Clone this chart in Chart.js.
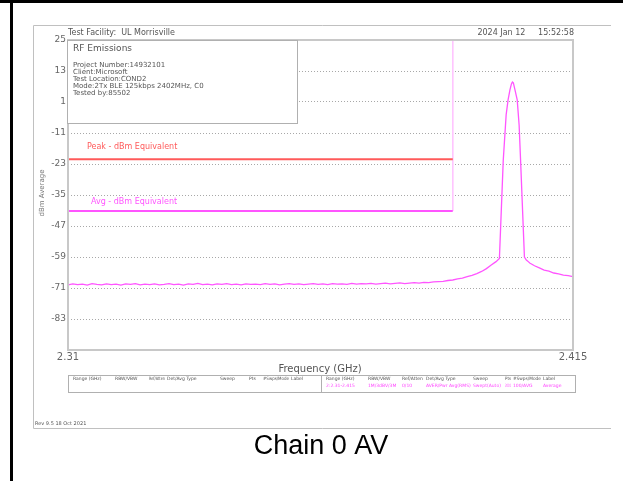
<!DOCTYPE html>
<html>
<head>
<meta charset="utf-8">
<title>Chain 0 AV</title>
<script src="https://cdn.jsdelivr.net/npm/chart.js@4.4.1/dist/chart.umd.min.js"></script>
<style>
  html, body { margin: 0; padding: 0; background: #fff; }
  #wrap { position: relative; width: 623px; height: 481px; }
</style>
</head>
<body>
<div id="wrap"><canvas id="rfChart" width="623" height="481"></canvas></div>
<script>
// --- data ---
var xTickValues = [2.31, 2.415];
var xTickLabels = ['2.31', '2.415'];
var yTickValues = [-95, -83, -71, -59, -47, -35, -23, -11, 1, 13, 25];
var yTickLabels = ['', '-83', '-71', '-59', '-47', '-35', '-23', '-11', '1', '13', '25'];

// average trace (GHz / dBm)
var traceFreq = [
  2.310, 2.311, 2.312, 2.313, 2.314, 2.315, 2.316, 2.317, 2.318, 2.319,
  2.320, 2.321, 2.322, 2.323, 2.324, 2.325, 2.326, 2.327, 2.328, 2.329,
  2.330, 2.331, 2.332, 2.333, 2.334, 2.335, 2.336, 2.337, 2.338, 2.339,
  2.340, 2.341, 2.342, 2.343, 2.344, 2.345, 2.346, 2.347, 2.348, 2.349,
  2.350, 2.351, 2.352, 2.353, 2.354, 2.355, 2.356, 2.357, 2.358, 2.359,
  2.360, 2.361, 2.362, 2.363, 2.364, 2.365, 2.366, 2.367, 2.368, 2.369,
  2.370, 2.371, 2.372, 2.373, 2.374, 2.375, 2.376, 2.377, 2.378, 2.379,
  2.380, 2.381, 2.382, 2.383, 2.384, 2.385, 2.386, 2.387, 2.388, 2.389,
  2.390, 2.391, 2.392, 2.393, 2.394, 2.395, 2.396, 2.397, 2.398, 2.399,
  2.3997, 2.4005, 2.4011, 2.4015, 2.4019, 2.4022, 2.4024, 2.4026, 2.4029, 2.4034,
  2.4038, 2.4041, 2.4049, 2.4053, 2.4056, 2.406, 2.407, 2.408, 2.409, 2.410,
  2.411, 2.412, 2.413, 2.414, 2.415
];
var traceDbm = [
  -69.8, -69.4, -69.7, -69.5, -69.9, -69.3, -69.6, -69.8, -69.4, -69.7,
  -69.5, -69.9, -69.4, -69.6, -69.3, -69.8, -69.5, -69.7, -69.4, -69.8,
  -69.6, -69.3, -69.7, -69.5, -69.9, -69.4, -69.6, -69.2, -69.7, -69.5,
  -69.8, -69.4, -69.6, -69.3, -69.7, -69.5, -69.8, -69.4, -69.6, -69.5,
  -69.7, -69.3, -69.6, -69.4, -69.8, -69.5, -69.3, -69.6, -69.4, -69.7,
  -69.5, -69.3, -69.6, -69.4, -69.7, -69.3, -69.5, -69.4, -69.6, -69.2,
  -69.5, -69.3, -69.4, -69.2, -69.5, -69.3, -69.1, -69.4, -69.2, -69.0,
  -69.3, -69.1, -68.9, -69.1, -68.8, -68.9, -68.6, -68.5, -68.4, -68.1,
  -67.9, -67.5, -67.2, -66.6, -66.1, -65.4, -64.6, -63.5, -62.1, -60.8,
  -59.6, -21.5, -4.0, 1.8, 5.8, 8.0, 8.7, 8.4, 6.0, 1.8,
  -8.0, -21.5, -59.0, -60.2, -60.6, -61.3, -62.4, -63.2, -64.1, -64.5,
  -65.2, -65.5, -66.0, -66.2, -66.6
];

var peakLimitDbm = -21.2;
var avgLimitDbm = -41.2;
var bandEdgeGHz = 2.39;
var plotTopDbm = 25;

function pts(xs, ys) {
  return xs.map(function (x, i) { return { x: x, y: ys[i] }; });
}

// --- page decoration drawn on the canvas ---
var decor = {
  id: 'decor',
  afterDraw: function (chart) {
    var ctx = chart.ctx;
    var a = chart.chartArea;
    ctx.save();

    // outer black edges
    ctx.fillStyle = '#000';
    ctx.fillRect(0, 0, 623, 3);
    ctx.fillRect(10, 0, 3, 481);

    // gray page frame
    ctx.strokeStyle = '#c0c0c0';
    ctx.lineWidth = 1;
    ctx.beginPath();
    ctx.moveTo(611, 25.5); ctx.lineTo(33.5, 25.5); ctx.lineTo(33.5, 428.5); ctx.lineTo(611, 428.5);
    ctx.stroke();

    // plot frame
    ctx.strokeStyle = '#c8c8c8';
    ctx.lineWidth = 2;
    ctx.strokeRect(a.left, a.top, a.right - a.left, a.bottom - a.top);

    // header
    ctx.fillStyle = '#555';
    ctx.textBaseline = 'middle';
    ctx.font = '8px "DejaVu Sans"';
    ctx.textAlign = 'left';
    ctx.fillText('Test Facility:  UL Morrisville', 68, 33);
    ctx.textAlign = 'right';
    ctx.fillText('2024 Jan 12     15:52:58', 574, 33);

    // info box
    ctx.fillStyle = '#fff';
    ctx.fillRect(67, 40, 230, 83);
    ctx.strokeStyle = '#b0b0b0';
    ctx.lineWidth = 1;
    ctx.strokeRect(67.5, 40.5, 230, 83);
    ctx.fillStyle = '#555';
    ctx.textAlign = 'left';
    ctx.font = '9px "DejaVu Sans"';
    ctx.fillText('RF Emissions', 73, 49);
    ctx.font = '7px "DejaVu Sans"';
    var info = ['Project Number:14932101', 'Client:Microsoft', 'Test Location:COND2',
                'Mode:2Tx BLE 125kbps 2402MHz, C0', 'Tested by:85502'];
    info.forEach(function (t, i) { ctx.fillText(t, 73, 65 + i * 7); });

    // limit labels
    ctx.font = '8px "DejaVu Sans"';
    ctx.fillStyle = '#ff5a5a';
    ctx.fillText('Peak - dBm Equivalent', 87, 147);
    ctx.fillStyle = '#ff55ff';
    ctx.fillText('Avg - dBm Equivalent', 91, 202);

    // y title
    ctx.save();
    ctx.translate(42, 193);
    ctx.rotate(-Math.PI / 2);
    ctx.textAlign = 'center';
    ctx.fillStyle = '#777';
    ctx.font = '7px "DejaVu Sans"';
    ctx.fillText('dBm Average', 0, 0);
    ctx.restore();

    // x title
    ctx.textAlign = 'center';
    ctx.fillStyle = '#555';
    ctx.font = '10px "DejaVu Sans"';
    ctx.fillText('Frequency (GHz)', 320, 369);

    // settings table
    ctx.strokeStyle = '#b0b0b0';
    ctx.strokeRect(68.5, 375.5, 507, 17);
    ctx.beginPath(); ctx.moveTo(321.5, 375.5); ctx.lineTo(321.5, 392.5); ctx.stroke();
    ctx.textAlign = 'left';
    ctx.font = '4.5px "DejaVu Sans"';
    var heads = ['Range (GHz)', 'RBW/VBW', 'Ref/Atten', 'Det/Avg Type', 'Sweep', 'Pts', '#Swps/Mode', 'Label'];
    var leftX = [73, 115, 149, 167, 220, 249, 263, 291, 320];
    var rightX = [326, 368, 402, 426, 473, 505, 513, 543, 575];
    var vals = ['2:2.31-2.415', '1M/3dBV/3M', '0/10', 'AVER/Pwr Avg(RMS)', 'Swept(Auto)', '2001', '100/AVG', 'Average'];
    ctx.fillStyle = '#555';
    heads.forEach(function (h, i) {
      ctx.fillText(h, leftX[i], 379, leftX[i + 1] - leftX[i] - 2);
      ctx.fillText(h, rightX[i], 379, rightX[i + 1] - rightX[i] - 2);
    });
    ctx.fillStyle = '#ff44ff';
    vals.forEach(function (v, i) { ctx.fillText(v, rightX[i], 386, rightX[i + 1] - rightX[i] - 2); });

    // footer
    ctx.fillStyle = '#555';
    ctx.font = '5px "DejaVu Sans"';
    ctx.fillText('Rev 9.5 18 Oct 2021', 35, 424);

    ctx.fillStyle = '#000';
    ctx.textAlign = 'center';
    ctx.font = '27px "Liberation Sans", Arial, sans-serif';
    ctx.fillText('Chain 0 AV', 321, 447);

    ctx.restore();
  }
};

var tickFont = { family: '"DejaVu Sans"', size: 9 };

new Chart(document.getElementById('rfChart').getContext('2d'), {
  type: 'line',
  data: {
    datasets: [
      {
        label: 'Average trace',
        data: pts(traceFreq, traceDbm),
        borderColor: '#ff55ff',
        borderWidth: 1.3,
        pointRadius: 0,
        tension: 0,
      },
      {
        label: 'Peak limit',
        data: pts([2.31, bandEdgeGHz], [peakLimitDbm, peakLimitDbm]),
        borderColor: '#ff5a5a',
        borderWidth: 2,
        pointRadius: 0,
      },
      {
        label: 'Avg limit',
        data: pts([2.31, bandEdgeGHz], [avgLimitDbm, avgLimitDbm]),
        borderColor: '#ff55ff',
        borderWidth: 2,
        pointRadius: 0,
      },
      {
        label: 'Band edge',
        data: pts([bandEdgeGHz, bandEdgeGHz], [plotTopDbm, avgLimitDbm]),
        borderColor: '#ffc4ff',
        borderWidth: 1,
        pointRadius: 0,
      },
    ],
  },
  options: {
    responsive: false,
    animation: false,
    layout: { padding: { left: 38, top: 40, right: 50, bottom: 111 } },
    plugins: {
      legend: { display: false },
      tooltip: { enabled: false },
    },
    scales: {
      x: {
        type: 'linear',
        min: 2.31,
        max: 2.415,
        afterBuildTicks: function (s) { s.ticks = xTickValues.map(function (v) { return { value: v }; }); },
        afterFit: function (s) { s.height = 20; },
        ticks: {
          color: '#666',
          font: { family: '"DejaVu Sans"', size: 10 },
          padding: 1,
          maxRotation: 0,
          callback: function (v) { return xTickLabels[xTickValues.indexOf(v)]; },
        },
        grid: { display: false, drawTicks: false },
        border: { display: false },
      },
      y: {
        min: -95,
        max: 25,
        afterBuildTicks: function (s) { s.ticks = yTickValues.map(function (v) { return { value: v }; }); },
        afterFit: function (s) { s.width = 30; },
        ticks: {
          color: '#666',
          font: tickFont,
          padding: 2,
          callback: function (v) { return yTickLabels[yTickValues.indexOf(v)]; },
        },
        grid: { color: '#a8a8a8', lineWidth: 1, drawTicks: false },
        border: { display: false, dash: [1, 2] },
      },
    },
  },
  plugins: [decor],
});
</script>
</body>
</html>
